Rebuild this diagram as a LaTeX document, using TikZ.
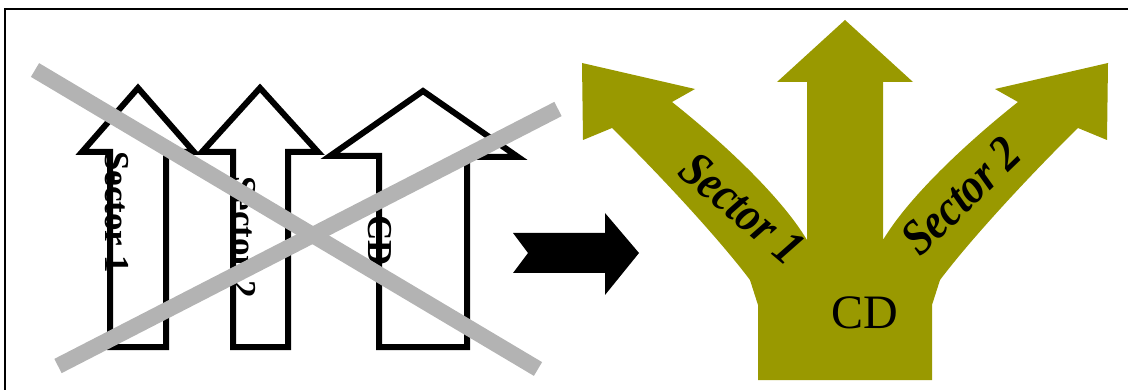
\documentclass[tikz,border=0pt]{standalone}
\usepackage{fontspec}
\usepackage{graphicx}
\setmainfont{Liberation Serif}
\definecolor{oliveA}{HTML}{999900}
\definecolor{crossgray}{HTML}{B3B3B3}
\tikzset{
  outlinearrow/.style={draw=black, line width=6pt, line join=miter, miter limit=10},
  crossline/.style={draw=crossgray, line width=16pt},
  lbl/.style={font=\fontsize{35}{40}\selectfont\bfseries, inner sep=0pt},
  wordart/.style={font=\fontsize{50}{54}\selectfont\bfseries\itshape, inner sep=0pt},
  bigcd/.style={font=\fontsize{48}{52}\selectfont, inner sep=0pt},
  frameline/.style={draw=black, line width=2pt}
}
\begin{document}
\begin{tikzpicture}[x=1pt,y=-1pt]
\useasboundingbox (0,0) rectangle (1128,390);
% frame
\draw[frameline] (5,392) -- (5,9) -- (1130,9);
% three outline arrows
\draw[outlinearrow] (110,347) -- (110,152) -- (82,152) -- (138,88) -- (194,152) -- (166,152) -- (166,347) -- cycle;
\draw[outlinearrow] (233,347) -- (233,152) -- (202,152) -- (260,88) -- (318,152) -- (288,152) -- (288,347) -- cycle;
\draw[outlinearrow] (379,347) -- (379,156) -- (330,156) -- (423,91) -- (518,157) -- (467,157) -- (467,347) -- cycle;
% labels
\node[lbl, rotate=-90] (s1) at (117,212) {Sector 1};
\node[lbl, rotate=-90] (s2) at (244,237) {Sector 2};
\node[lbl, rotate=-90] (cd1) at (380,241) {CD};
% gray cross
\draw[crossline] (35,70) -- (538,369);
\draw[crossline] (58,366) -- (558,109);
% black notched arrow
\fill[black] (513,233) -- (528,253) -- (513,273) -- (605,273) -- (605,295) -- (639,253) -- (605,213) -- (605,233) -- cycle;
% olive fork
\fill[oliveA] (758,380) -- (758,305) -- (750,280)
  .. controls (720,240) and (660,175) .. (612,128)
  -- (583,140) -- (582,63) -- (695,89) -- (672,102)
  .. controls (720,140) and (780,195) .. (807,240)
  -- (807,82) -- (777,82) -- (845,20) -- (913,82) -- (883,82) -- (883,240)
  .. controls (910,195) and (970,140) .. (1018,102)
  -- (995,89) -- (1108,63) -- (1107,140) -- (1078,128)
  .. controls (1030,175) and (970,240) .. (940,280)
  -- (932,305) -- (932,380) -- cycle;
\node[wordart, rotate=-40] (w1) at (742,208) {\scalebox{0.86}[1]{Sector 1}};
\node[wordart, rotate=44] (w2) at (961,196) {\scalebox{0.86}[1]{Sector 2}};
\node[bigcd] (cd2) at (865,313) {CD};
\end{tikzpicture}
\end{document}
